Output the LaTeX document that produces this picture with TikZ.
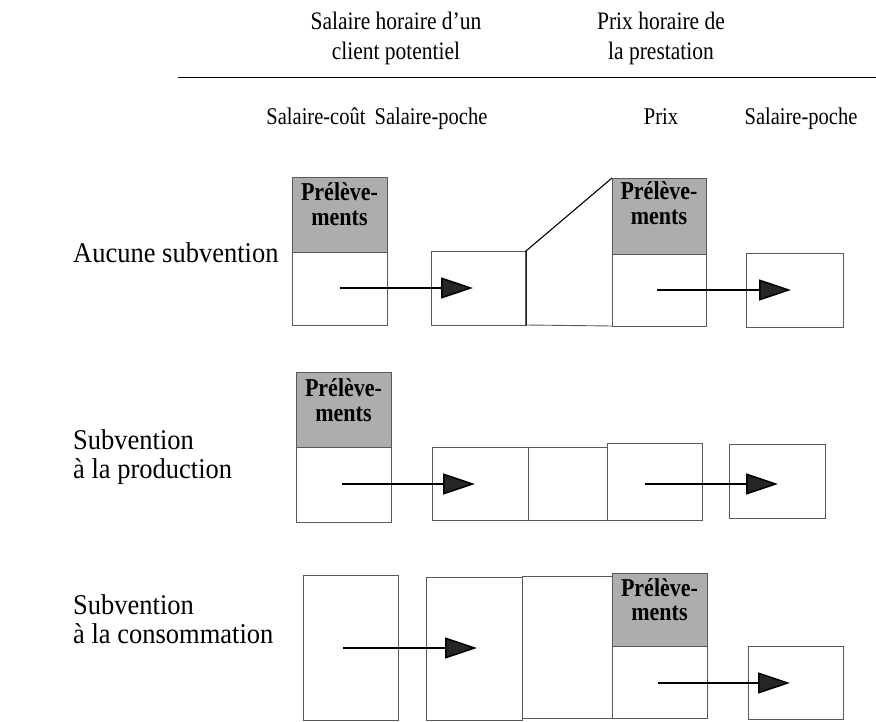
\documentclass[tikz,border=0pt]{standalone}
\usepackage{fontspec}
\setmainfont{Liberation Serif}
\usetikzlibrary{arrows.meta}
\newcommand\vtx[1]{\scalebox{1}[1.17]{#1}}
\newcommand\vtr[1]{\scalebox{1}[1.08]{#1}}
\tikzset{
  box/.style={draw=black!65, line width=0.9pt, inner sep=0pt, outer sep=0pt, anchor=north west},
  shade/.style={box, fill=black!32},
  prelev/.style={font=\fontsize{22}{24}\selectfont\bfseries, inner sep=0pt, anchor=base, text=black},
  arr/.style={line width=1.5pt, -{Triangle[length=32pt,width=21pt,fill=black!85]}},
  hdr/.style={font=\fontsize{21.5}{30}\selectfont, inner sep=0pt, anchor=base},
  col/.style={font=\fontsize{20.5}{24}\selectfont, inner sep=0pt, anchor=base},
  rowlab/.style={font=\fontsize{26.5}{27}\selectfont, anchor=base west, inner sep=0pt},
  diag/.style={draw=black, line width=1.1pt}
}
\begin{document}
\begin{tikzpicture}[x=1pt,y=-1pt]
\useasboundingbox (0,0) rectangle (876,722);
% headers
\node[hdr] (h1a) at (396,30) {\vtx{Salaire horaire d'un}};
\node[hdr] (h1b) at (396,60) {\vtx{client potentiel}};
\node[hdr] (h2a) at (661,30) {\vtx{Prix horaire de}};
\node[hdr] (h2b) at (661,60) {\vtx{la prestation}};
\coordinate (lineL) at (178,78);
\coordinate (lineR) at (876,78);
\draw[line width=1pt] (lineL) -- (lineR);
\node[col] (c1) at (316,125) {\vtx{Salaire-coût}};
\node[col] (c2) at (431,125) {\vtx{Salaire-poche}};
\node[col] (c3) at (661,125) {\vtx{Prix}};
\node[col] (c4) at (801,125) {\vtx{Salaire-poche}};
% row labels
\node[rowlab] (l1) at (73,262) {\vtr{Aucune subvention}};
\node[rowlab] (l2a) at (73,449) {\vtr{Subvention}};
\node[rowlab] (l2b) at (73,478) {\vtr{à la production}};
\node[rowlab] (l3a) at (73,614) {\vtr{Subvention}};
\node[rowlab] (l3b) at (73,643) {\vtr{à la consommation}};
% row 1
\node[box, minimum width=95pt, minimum height=148pt] (r1a) at (292,177) {};
\node[shade, minimum width=95pt, minimum height=75pt] (r1as) at (292,177) {};
\node[prelev] (p1a) at (339.5,201) {\vtx{Prélève-}};
\node[prelev] (p1b) at (339.5,226) {\vtx{ments}};
\node[box, minimum width=95pt, minimum height=74pt] (r1b) at (431,251) {};
\node[box, minimum width=94pt, minimum height=148pt] (r1d) at (612,178) {};
\node[shade, minimum width=94pt, minimum height=76pt] (r1ds) at (612,178) {};
\node[prelev] (p1c) at (659,200) {\vtx{Prélève-}};
\node[prelev] (p1d) at (659,225) {\vtx{ments}};
\node[box, minimum width=97pt, minimum height=74pt] (r1e) at (746,253) {};
\draw[box] (r1b.south east) -- (r1d.south west);
\draw[diag] (r1b.south east) -- (r1b.north east) -- (r1d.north west);
\coordinate (a1s) at (340,288); \coordinate (a1t) at (473,288);
\coordinate (a2s) at (657,290); \coordinate (a2t) at (791,290);
\draw[arr] (a1s) -- (a1t);
\draw[arr] (a2s) -- (a2t);
% row 2
\node[box, minimum width=95pt, minimum height=150pt] (r2a) at (296,372) {};
\node[shade, minimum width=95pt, minimum height=75pt] (r2as) at (296,372) {};
\node[prelev] (p2a) at (343.5,396) {\vtx{Prélève-}};
\node[prelev] (p2b) at (343.5,421) {\vtx{ments}};
\node[box, minimum width=96pt, minimum height=73pt] (r2b) at (432,447) {};
\node[box, minimum width=79pt, minimum height=73pt] (r2c) at (528,447) {};
\node[box, minimum width=95pt, minimum height=77pt] (r2d) at (607,443) {};
\node[box, minimum width=96pt, minimum height=74pt] (r2e) at (729,444) {};
\coordinate (b1s) at (342,484); \coordinate (b1t) at (475,484);
\coordinate (b2s) at (645,484); \coordinate (b2t) at (778,484);
\draw[arr] (b1s) -- (b1t);
\draw[arr] (b2s) -- (b2t);
% row 3
\node[box, minimum width=95pt, minimum height=145pt] (r3a) at (303,575) {};
\node[box, minimum width=96pt, minimum height=143pt] (r3b) at (426,577) {};
\node[box, minimum width=90pt, minimum height=142pt] (r3c) at (522,576) {};
\node[box, minimum width=95pt, minimum height=145pt] (r3d) at (612,573) {};
\node[shade, minimum width=95pt, minimum height=73pt] (r3ds) at (612,573) {};
\node[prelev] (p3a) at (659.5,596) {\vtx{Prélève-}};
\node[prelev] (p3b) at (659.5,620) {\vtx{ments}};
\node[box, minimum width=95pt, minimum height=73pt] (r3e) at (748,646) {};
\coordinate (c1s) at (343,648); \coordinate (c1t) at (477,648);
\coordinate (c2s) at (658,683); \coordinate (c2t) at (790,683);
\draw[arr] (c1s) -- (c1t);
\draw[arr] (c2s) -- (c2t);
\end{tikzpicture}
\end{document}
